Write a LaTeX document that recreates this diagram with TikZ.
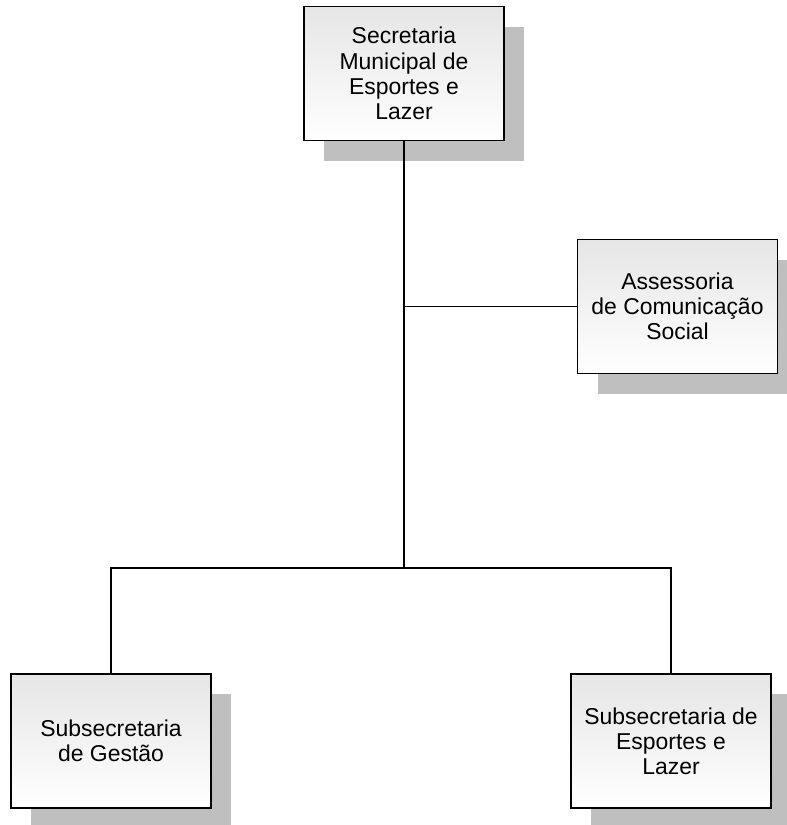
\documentclass[tikz,border=0pt]{standalone}
\usepackage{fontspec}
\setmainfont{Liberation Sans}
\usetikzlibrary{shadows}

\begin{document}
\begin{tikzpicture}
[x=0.75pt,y=-0.75pt,
 orgbox/.style={shape=rectangle,draw,line width=1.4pt,minimum width=150pt,minimum height=100.5pt,
   align=center,font=\fontsize{17.2}{18.9}\selectfont,top color=black!10,bottom color=white,
   drop shadow={shadow xshift=15pt,shadow yshift=-15pt,fill=black!25,opacity=1}},
 link/.style={line width=1.4pt}]
\useasboundingbox (0,0) rectangle (786,825);
\node[orgbox] (secretaria) at (404, 73.5) {Secretaria\\Municipal de\\Esportes e\\Lazer};
\node[orgbox] (assessoria) at (677.5, 306.5) {Assessoria\\de Comunica\c{c}\~ao\\Social};
\node[orgbox] (gestao) at (111, 741) {Subsecretaria\\de Gest\~ao};
\node[orgbox] (subesportes) at (671, 741) {Subsecretaria de\\Esportes e\\Lazer};

\coordinate (split) at (404, 568);
\draw[link] (secretaria) -- (split);
\draw[link] (assessoria.west) -- (secretaria.south |- assessoria.west);
\draw[link] (gestao.north) -- (gestao.north |- split) -- (subesportes.north |- split) -- (subesportes.north);
\end{tikzpicture}
\end{document}
